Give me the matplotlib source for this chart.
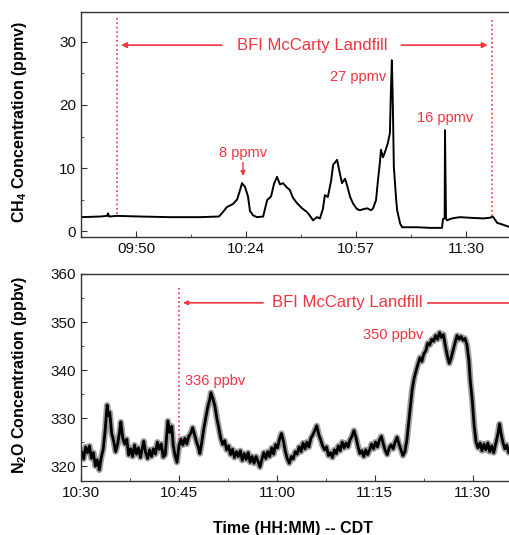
import numpy as np
import matplotlib
matplotlib.use("Agg")
import matplotlib.pyplot as plt
from matplotlib.ticker import FixedLocator, FuncFormatter, MultipleLocator

plt.rcParams['font.family'] = ['Liberation Sans', 'DejaVu Sans']
plt.rcParams['mathtext.fontset'] = 'custom'
plt.rcParams['mathtext.rm'] = 'Liberation Sans'
plt.rcParams['mathtext.bf'] = 'Liberation Sans:bold'

# time in minutes after midnight (CDT)
ch4_time = [574.0, 579.8, 581.9, 582.2, 582.5, 584.9, 591.9, 601.0, 610.1, 615.8,
            617.0, 618.2, 620.1, 621.3, 622.2, 622.8, 623.7, 624.6, 625.2, 626.1,
            627.3, 629.2, 630.4, 631.6, 632.5, 633.4, 634.3, 635.2, 636.4, 637.3,
            638.2, 639.5, 641.0, 642.5, 643.4, 644.3, 645.5, 646.4, 647.3, 647.9,
            648.8, 649.8, 650.4, 651.6, 652.5, 653.1, 654.0, 654.6, 655.5, 656.4,
            657.6, 658.5, 659.8, 660.7, 661.9, 662.5, 663.4, 664.0, 664.6, 664.9,
            665.5, 666.1, 667.0, 667.6, 667.9, 668.2, 668.5, 668.8, 669.5, 669.8,
            670.7, 671.3, 675.8, 679.8, 683.4, 683.7, 684.2, 684.3, 684.6, 684.9,
            686.4, 688.8, 691.9, 695.8, 697.9, 698.8, 700.1, 701.9, 704.0]
ch4_ppmv = [2.2, 2.3, 2.4, 2.8, 2.3, 2.4, 2.3, 2.2, 2.2, 2.3,
            3.0, 3.8, 4.3, 5.0, 6.5, 7.6, 7.0, 5.5, 3.2, 2.5,
            2.2, 2.3, 4.9, 5.5, 7.5, 8.6, 7.4, 7.6, 6.9, 6.5,
            5.3, 4.4, 3.6, 3.0, 2.4, 1.7, 2.2, 2.0, 3.5, 5.7,
            5.4, 8.0, 10.5, 11.3, 9.0, 7.6, 8.3, 7.3, 5.5, 4.4,
            3.5, 3.3, 3.5, 3.6, 3.3, 3.6, 4.9, 8.1, 11.0, 12.9,
            11.7, 12.5, 14.0, 15.5, 22.0, 27.1, 20.0, 10.2, 5.0, 3.3,
            1.2, 0.6, 0.6, 0.5, 0.5, 1.9, 2.0, 16.0, 2.0, 1.7,
            2.0, 2.2, 2.1, 2.0, 2.1, 2.3, 1.3, 1.0, 0.6]

n2o_time = [630.1, 630.4, 630.7, 631.0, 631.3, 631.6, 631.9, 632.2, 632.5, 632.8,
            633.1, 633.4, 633.7, 634.0, 634.2, 634.4, 634.7, 635.0, 635.3, 635.6,
            635.9, 636.1, 636.4, 636.7, 637.0, 637.3, 637.6, 637.9, 638.2, 638.5,
            638.8, 639.1, 639.4, 639.6, 639.9, 640.2, 640.5, 640.8, 641.1, 641.4,
            641.7, 642.0, 642.3, 642.6, 642.9, 643.1, 643.3, 643.6, 643.9, 644.1,
            644.4, 644.7, 645.0, 645.3, 645.6, 645.9, 646.2, 646.5, 646.8, 647.1,
            647.4, 647.7, 648.0, 648.2, 648.5, 648.8, 649.1, 649.4, 649.7, 649.9,
            650.2, 650.5, 650.8, 651.1, 651.4, 651.7, 652.0, 652.3, 652.6, 652.9,
            653.2, 653.5, 653.8, 654.1, 654.4, 654.7, 655.0, 655.3, 655.6, 655.9,
            656.2, 656.5, 656.8, 657.1, 657.4, 657.7, 658.0, 658.3, 658.6, 658.9,
            659.2, 659.5, 659.8, 660.1, 660.4, 660.7, 661.0, 661.3, 661.6, 661.9,
            662.2, 662.5, 662.8, 663.1, 663.4, 663.7, 664.0, 664.3, 664.6, 664.9,
            665.2, 665.5, 665.8, 666.1, 666.4, 666.7, 667.0, 667.3, 667.6, 667.9,
            668.2, 668.5, 668.8, 669.1, 669.4, 669.7, 670.0, 670.3, 670.6, 670.9,
            671.2, 671.5, 671.8, 672.1, 672.4, 672.7, 673.0, 673.3, 673.6, 673.9,
            674.2, 674.5, 674.8, 675.1, 675.4, 675.7, 676.0, 676.3, 676.6, 676.9,
            677.2, 677.5, 677.8, 678.1, 678.4, 678.7, 679.0, 679.3, 679.6, 679.9,
            680.1, 680.4, 680.7, 681.0, 681.3, 681.6, 681.9, 682.2, 682.5, 682.8,
            683.1, 683.4, 683.7, 684.0, 684.3, 684.6, 684.9, 685.2, 685.5, 685.8,
            686.1, 686.4, 686.7, 687.0, 687.3, 687.6, 687.9, 688.2, 688.5, 688.8,
            689.1, 689.4, 689.6, 689.9, 690.2, 690.5, 690.8, 691.1, 691.4, 691.7,
            692.0, 692.3, 692.6, 692.9, 693.2, 693.5, 693.8, 694.1, 694.3, 694.6,
            694.9, 695.2, 695.5, 695.8, 696.1]
n2o_ppbv = [322.9, 321.5, 324.0, 322.8, 324.2, 321.6, 322.8, 320.0, 321.3, 319.2,
            321.8, 323.5, 327.5, 332.7, 330.5, 331.2, 326.8, 325.2, 323.0, 324.5,
            327.0, 329.2, 325.8, 324.6, 325.6, 322.3, 323.6, 322.0, 324.4, 322.5,
            323.8, 321.8, 323.9, 325.2, 322.8, 321.6, 323.4, 322.0, 323.6, 322.5,
            325.0, 323.5, 324.6, 321.9, 322.4, 326.0, 329.4, 327.0, 328.3, 324.5,
            322.2, 320.8, 324.2, 325.6, 324.4, 325.8, 324.6, 326.2, 326.8, 328.0,
            326.5, 325.0, 323.8, 322.6, 325.0, 327.8, 330.0, 332.2, 333.8, 335.3,
            334.0, 332.5, 330.0, 328.0, 325.8, 324.5, 325.3, 323.4, 324.2, 322.4,
            323.5, 321.8, 323.0, 322.0, 323.2, 321.2, 322.6, 321.4, 322.8, 320.8,
            322.0, 320.6, 322.0, 321.0, 319.8, 321.4, 322.8, 321.6, 323.0, 322.0,
            323.8, 322.5, 324.5, 323.8, 325.6, 326.8, 325.2, 323.0, 321.5, 320.6,
            322.0, 321.5, 323.0, 322.5, 324.0, 323.0, 324.8, 323.6, 325.0, 324.0,
            325.8, 326.5, 327.4, 328.4, 326.6, 325.5, 324.2, 323.4, 324.0, 322.2,
            322.8, 321.8, 323.4, 322.6, 324.2, 323.2, 325.0, 323.8, 324.8, 324.0,
            325.5, 326.2, 327.4, 326.0, 324.2, 322.6, 323.2, 322.0, 323.4, 322.4,
            323.4, 324.6, 323.6, 325.0, 324.0, 325.4, 326.2, 324.6, 323.2, 322.4,
            323.8, 324.4, 323.6, 325.0, 326.0, 324.6, 323.4, 322.2, 323.0, 325.4,
            328.0, 332.0, 335.8, 338.2, 339.8, 341.2, 342.6, 341.8, 343.4, 344.0,
            345.6, 345.2, 346.4, 346.0, 347.2, 346.4, 347.8, 346.8, 347.4, 345.0,
            343.0, 341.4, 342.6, 344.2, 345.8, 347.2, 346.4, 347.0, 346.2, 346.6,
            345.2, 342.0, 338.0, 334.0, 328.5, 325.0, 323.8, 324.8, 323.2, 324.6,
            323.4, 324.8, 323.0, 324.2, 322.8, 324.6, 326.4, 328.8, 327.0, 325.0,
            323.6, 324.4, 322.8, 323.4, 322.6]

RED = '#ee3540'
W, H = 510, 535


def hhmm(x, pos=None):
    m = int(np.floor(x + 1e-6))
    return "%02d:%02d" % (m // 60, m % 60)


def style_axes(ax):
    for s in ax.spines.values():
        s.set_color('#333333')
        s.set_linewidth(1.0)
    ax.tick_params(which='both', direction='in', top=False, right=False,
                   labelsize=11, colors='#333333', labelcolor='#111111')
    ax.tick_params(which='major', length=4)
    ax.tick_params(which='minor', length=2.5)


fig = plt.figure(figsize=(W / 100, H / 100), dpi=100)

# ---- top panel: CH4
x0, xs = 574.0, 3.3  # minutes at left spine, px per minute
xmax = 706.0
ax1 = fig.add_axes([81 / W, 1 - 237 / H, (xmax - x0) * xs / W, 225 / H])
ax1.plot(ch4_time, ch4_ppmv, color='black', lw=1.4)
ax1.set_xlim(x0, xmax)
ax1.set_ylim(-0.95, 34.76)
ax1.yaxis.set_major_locator(MultipleLocator(10))
ax1.yaxis.set_minor_locator(MultipleLocator(5))
ax1.xaxis.set_major_locator(FixedLocator(np.arange(x0 + 50 / 3, xmax, 100 / 3)))
ax1.xaxis.set_minor_locator(FixedLocator(np.arange(x0, xmax, 50 / 3)))
ax1.xaxis.set_major_formatter(FuncFormatter(hhmm))
style_axes(ax1)

ax1.plot([584.9, 584.9], [33.8, 2.4], ls=':', color=RED, lw=1.2)
ax1.plot([698.5, 698.5], [33.5, 2.3], ls=':', color=RED, lw=1.2)
ax1.text(644, 29.5, 'BFI McCarty Landfill', color=RED, fontsize=12,
         ha='center', va='center')
ax1.annotate('', xy=(585.3, 29.5), xytext=(617.5, 29.5),
             arrowprops=dict(arrowstyle='-|>', color=RED, lw=1.2, mutation_scale=8))
ax1.annotate('', xy=(698.1, 29.5), xytext=(670.2, 29.5),
             arrowprops=dict(arrowstyle='-|>', color=RED, lw=1.2, mutation_scale=8))
ax1.text(623.1, 12.4, '8 ppmv', color=RED, fontsize=10.5, ha='center', va='center')
ax1.annotate('', xy=(623.1, 8.3), xytext=(623.1, 11.3),
             arrowprops=dict(arrowstyle='-|>', color=RED, lw=1.0, mutation_scale=7))
ax1.text(657.9, 24.4, '27 ppmv', color=RED, fontsize=10.5, ha='center', va='center')
ax1.text(684.3, 17.9, '16 ppmv', color=RED, fontsize=10.5, ha='center', va='center')

# ---- bottom panel: N2O
b0, bs = 630.0, 6.53
bmax = 696.5
ax2 = fig.add_axes([81 / W, 1 - 481 / H, (bmax - b0) * bs / W, 207 / H])
ax2.plot(n2o_time, n2o_ppbv, color='#a0a0a0', lw=4.5)
ax2.plot(n2o_time, n2o_ppbv, color='black', lw=2.0)
ax2.set_xlim(b0, bmax)
ax2.set_ylim(316.9, 360)
ax2.yaxis.set_major_locator(MultipleLocator(10))
ax2.yaxis.set_minor_locator(MultipleLocator(5))
ax2.xaxis.set_major_locator(MultipleLocator(15))
ax2.xaxis.set_minor_locator(MultipleLocator(7.5))
ax2.xaxis.set_major_formatter(FuncFormatter(hhmm))
style_axes(ax2)

ax2.plot([645.0, 645.0], [357.1, 325.0], ls=':', color=RED, lw=1.2)
ax2.text(670.7, 354, 'BFI McCarty Landfill', color=RED, fontsize=12,
         ha='center', va='center')
ax2.annotate('', xy=(645.2, 354), xytext=(658.3, 354),
             arrowprops=dict(arrowstyle='-|>', color=RED, lw=1.2, mutation_scale=6))
ax2.plot([683.2, 700.0], [354, 354], color=RED, lw=1.2, clip_on=True)
ax2.text(645.9, 337.7, '336 ppbv', color=RED, fontsize=10.5, ha='left', va='center')
ax2.text(677.8, 347.3, '350 ppbv', color=RED, fontsize=10.5, ha='center', va='center')

# axis titles
fig.text(20 / W, 1 - 122 / H, r'CH$_\mathbf{4}$ Concentration (ppmv)', rotation=90,
         ha='center', va='center', fontsize=11.5, fontweight='bold')
fig.text(20 / W, 1 - 375 / H, r'N$_\mathbf{2}$O Concentration (ppbv)', rotation=90,
         ha='center', va='center', fontsize=11.5, fontweight='bold')
fig.text(293 / W, 1 - 528 / H, 'Time (HH:MM) -- CDT',
         ha='center', va='center', fontsize=11.5, fontweight='bold')

fig.savefig('out.png', dpi=100)
